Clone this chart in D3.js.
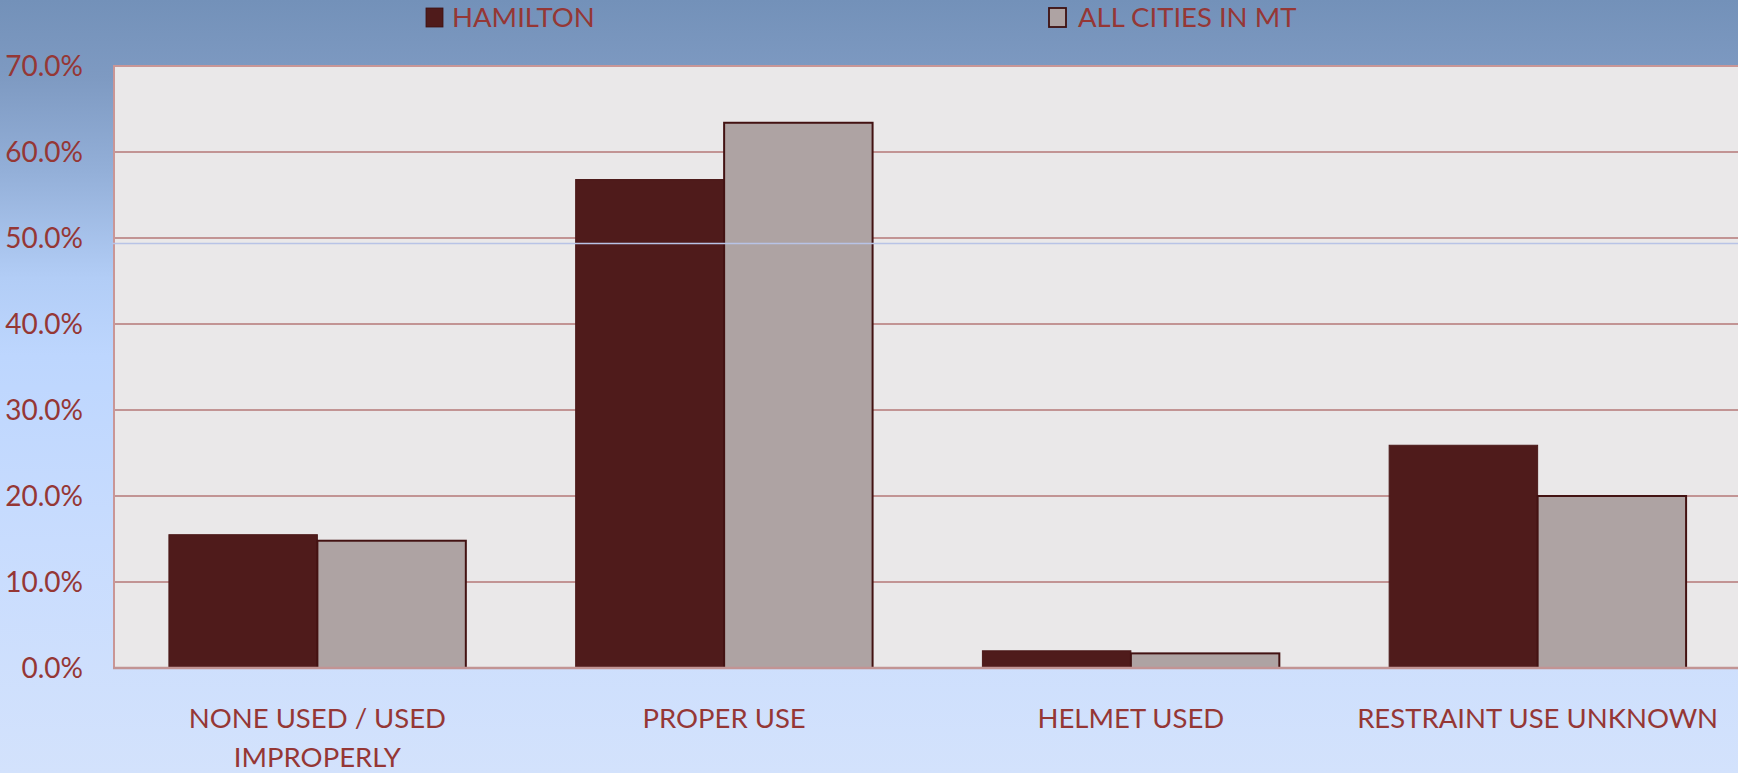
<!DOCTYPE html>
<html>
<head>
<meta charset="utf-8">
<script src="https://cdn.jsdelivr.net/npm/d3@7"></script>
<style>
  html, body { margin: 0; padding: 0; overflow: hidden; }
  svg { display: block; }
  text { font-family: Lato, "Open Sans", sans-serif; fill: #953735; }
</style>
</head>
<body>
<svg id="chart" width="1738" height="773"></svg>
<script>
// ---- data ----
const categories = ["NONE USED / USED\nIMPROPERLY", "PROPER USE", "HELMET USED", "RESTRAINT USE UNKNOWN"];
const seriesNames = ["HAMILTON", "ALL CITIES IN MT"];
const hamilton = [15.5, 56.8, 2.0, 25.9];
const allCities = [14.8, 63.4, 1.7, 20.0];
const yTicks = [0, 10, 20, 30, 40, 50, 60, 70];
const guideLineValue = 49.35; // faint line visible across the reference plot

// ---- layout ----
const W = 1738, H = 773;
const plot = { left: 114, top: 66, right: 1741, bottom: 668 };
const colors = { fill: ["#4f1b1b", "#aea3a3"], stroke: ["#4c1a1a", "#431212"], strokeW: [1, 2] };

const svg = d3.select("#chart");
const defs = svg.append("defs");
const grad = defs.append("linearGradient").attr("id", "bg").attr("x1", 0).attr("y1", 0).attr("x2", 0).attr("y2", 1);
[[0, "#7391b9"], [0.1, "#7e9ac2"], [0.22, "#93afd8"], [0.36, "#b2cdf6"], [0.46, "#bdd6fe"], [0.7, "#c8dcfe"], [1, "#d3e2fc"]]
  .forEach(([o, c]) => grad.append("stop").attr("offset", o).attr("stop-color", c));
svg.append("rect").attr("width", W).attr("height", H).attr("fill", "url(#bg)");

const y = d3.scaleLinear().domain([0, 70]).range([plot.bottom, plot.top]);
const x0 = d3.scaleBand().domain(categories).range([plot.left, plot.right]).paddingInner(0.27).paddingOuter(0.135);
const x1 = d3.scaleBand().domain(seriesNames).range([0, x0.bandwidth()]).padding(0);

// plot background
svg.append("rect").attr("x", plot.left).attr("y", plot.top)
  .attr("width", plot.right - plot.left).attr("height", plot.bottom - plot.top).attr("fill", "#eae8e9");

// gridlines
svg.append("g").selectAll("line").data(yTicks.filter(d => d > 0 && d < 70)).join("line")
  .attr("x1", plot.left).attr("x2", plot.right)
  .attr("y1", d => y(d)).attr("y2", d => y(d))
  .attr("stroke", "#c29494").attr("stroke-width", 2);

// plot border (top + left)
svg.append("path")
  .attr("d", `M${plot.left},${plot.bottom} V${plot.top} H${plot.right}`)
  .attr("fill", "none").attr("stroke", "#c99696").attr("stroke-width", 2);

// y axis labels
const yAxis = d3.axisLeft(y).tickValues(yTicks).tickFormat(d => d.toFixed(1) + "%").tickSize(0).tickPadding(0);
const gy = svg.append("g").attr("transform", `translate(83,0)`).call(yAxis);
gy.select(".domain").remove();
gy.selectAll("text").attr("font-size", 28).attr("fill", "#953735").attr("font-family", "Lato, sans-serif").attr("dy", "0.35em");

// bars
const data = categories.map((c, i) => ({ cat: c, vals: [hamilton[i], allCities[i]] }));
const groups = svg.append("g").selectAll("g").data(data).join("g")
  .attr("transform", d => `translate(${x0(d.cat)},0)`);
groups.selectAll("rect").data(d => d.vals.map((v, j) => ({ v, j }))).join("rect")
  .attr("x", d => x1(seriesNames[d.j]))
  .attr("y", d => y(d.v))
  .attr("width", x1.bandwidth())
  .attr("height", d => y(0) - y(d.v))
  .attr("fill", d => colors.fill[d.j])
  .attr("stroke", d => colors.stroke[d.j])
  .attr("stroke-width", d => colors.strokeW[d.j]);

// zero axis line
svg.append("line").attr("x1", plot.left - 1).attr("x2", plot.right)
  .attr("y1", y(0)).attr("y2", y(0)).attr("stroke", "#c29494").attr("stroke-width", 2.5);

// faint guide line
svg.append("line").attr("x1", plot.left - 2).attr("x2", plot.right)
  .attr("y1", y(guideLineValue)).attr("y2", y(guideLineValue))
  .attr("stroke", "#b8c3e6").attr("stroke-width", 1.5);

// x axis labels
const xAxis = d3.axisBottom(x0).tickSize(0).tickFormat("");
const gx = svg.append("g").attr("transform", `translate(0,${plot.bottom})`).call(xAxis);
gx.select(".domain").remove();
gx.selectAll(".tick").each(function(d) {
  const t = d3.select(this).append("text").attr("text-anchor", "middle")
    .attr("font-size", 27.5).attr("fill", "#953735").attr("font-family", "Lato, sans-serif");
  d.split("\n").forEach((line, i) => {
    t.append("tspan").attr("x", 0).attr("y", 60 + i * 39).text(line);
  });
});

// legend
const legendX = [426, 1049];
const lg = svg.append("g").selectAll("g").data(seriesNames).join("g")
  .attr("transform", (d, i) => `translate(${legendX[i]},0)`);
lg.append("rect").attr("x", 0).attr("y", 8).attr("width", 17).attr("height", 19)
  .attr("fill", (d, i) => colors.fill[i]).attr("stroke", "#3d1010").attr("stroke-width", (d, i) => i ? 1.8 : 0.8);
lg.append("text").attr("x", (d, i) => i ? 29 : 26).attr("y", 27).attr("font-size", 27.5)
  .attr("fill", "#953735").attr("font-family", "Lato, sans-serif").text(d => d);
</script>
</body>
</html>
